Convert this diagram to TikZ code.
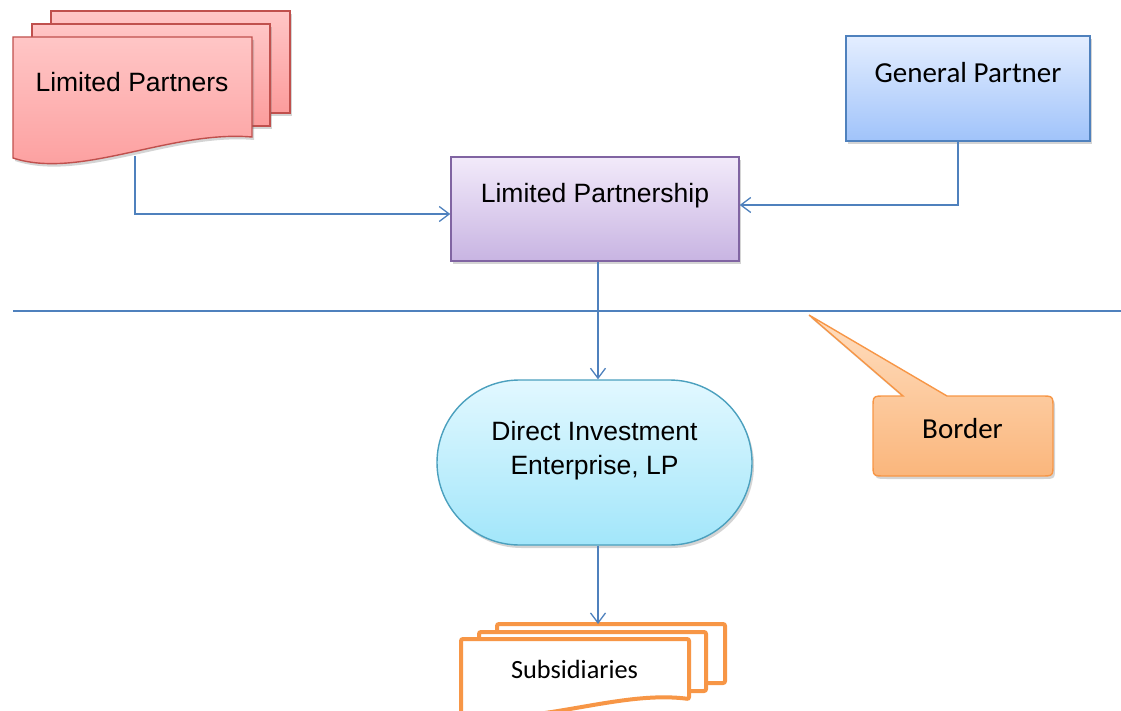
\documentclass[tikz,border=0pt]{standalone}
\usepackage{fontspec}
\setmainfont{Liberation Sans}
\newfontfamily\calib{Carlito}
\usetikzlibrary{arrows.meta,shapes.misc,shadows}
\definecolor{connblue}{RGB}{79,129,189}
\definecolor{lpTop}{RGB}{255,198,198}
\definecolor{lpBot}{RGB}{252,156,156}
\definecolor{lpLine}{RGB}{192,80,77}
\definecolor{gpTop}{RGB}{228,238,255}
\definecolor{gpBot}{RGB}{160,195,250}
\definecolor{gpLine}{RGB}{79,129,189}
\definecolor{psTop}{RGB}{242,234,250}
\definecolor{psBot}{RGB}{200,180,226}
\definecolor{psLine}{RGB}{128,100,162}
\definecolor{dieTop}{RGB}{226,248,255}
\definecolor{dieBot}{RGB}{162,230,250}
\definecolor{dieLine}{RGB}{75,160,190}
\definecolor{orTop}{RGB}{255,222,192}
\definecolor{orBot}{RGB}{250,182,124}
\definecolor{orLine}{RGB}{247,150,70}
\begin{document}
\begin{tikzpicture}[x=1pt,y=-1pt,
  shad/.style={drop shadow={shadow xshift=2pt,shadow yshift=-3pt,opacity=0.28,fill=black!60}},
  conn/.style={draw=connblue,line width=1.3pt,-{Straight Barb[length=10pt,width=15pt,line width=1.3pt]}},
  arialtxt/.style={font=\fontsize{26.5}{34}\selectfont,text=black,inner sep=0pt},
  calibtxt/.style={font=\calib\fontsize{29}{34}\selectfont,text=black,inner sep=0pt},
  boxstyle/.style={rectangle,line width=1.4pt,shad,inner sep=0pt},
  orangedoc/.style={draw=orLine,fill=white,line width=4pt,rounded corners=2pt}
]
\useasboundingbox (0,0) rectangle (1121,711);

% Limited Partners (multi-document)
\path[shad,draw=lpLine,line width=1.4pt,top color=lpTop,bottom color=lpBot]
  (51,11) rectangle (290,113);
\path[shad,draw=lpLine,line width=1.4pt,top color=lpTop,bottom color=lpBot]
  (32,24) rectangle (270,126);
\path[shad,draw=lpLine,line width=1.4pt,top color=lpTop,bottom color=lpBot]
  (13,37) -- (252,37) -- (252,137) .. controls (170,130) and (80,180) .. (13,158) -- cycle;
\node[arialtxt,anchor=base] (lptxt) at (132,92) {Limited Partners};
\coordinate (lpbot) at (135,156);

% General Partner
\node[boxstyle,draw=gpLine,top color=gpTop,bottom color=gpBot,
  minimum width=244pt,minimum height=105pt] (gp) at (968,88.5) {};
\node[calibtxt,anchor=base] (gptxt) at (968,83) {General Partner};

% Limited Partnership
\node[boxstyle,draw=psLine,top color=psTop,bottom color=psBot,
  minimum width=288pt,minimum height=104pt] (lps) at (595,209) {};
\node[arialtxt,anchor=base] (lpstxt) at (595,203) {Limited Partnership};

% Border line
\coordinate (bl) at (13,311);
\coordinate (br) at (1121,311);
\draw[connblue,line width=1.3pt] (bl) -- (br);

% Direct Investment Enterprise
\node[rounded rectangle,line width=1.4pt,shad,draw=dieLine,top color=dieTop,bottom color=dieBot,
  minimum width=315pt,minimum height=165pt,inner sep=0pt] (die) at (594.5,462.5) {};
\node[arialtxt,anchor=base] (dietxt1) at (594.5,440) {Direct Investment};
\node[arialtxt,anchor=base] (dietxt2) at (594.5,474) {Enterprise, LP};

% Border callout
\path[shad,draw=orLine,line width=1.4pt,top color=orTop,bottom color=orBot]
  (903,396) -- (809,315) -- (947,396) -- (1041,396)
  .. controls (1053,396) .. (1053,408) -- (1053,464)
  .. controls (1053,476) .. (1041,476) -- (885,476)
  .. controls (873,476) .. (873,464) -- (873,408)
  .. controls (873,396) .. (885,396) -- cycle;
\node[calibtxt,anchor=base] (bordertxt) at (962.5,438) {Border};

% Subsidiaries (multi-document)
\path[orangedoc] (497,624) rectangle (725,683);
\path[orangedoc] (479,632) rectangle (706,691);
\path[orangedoc] (461,639) -- (689,639) -- (689,699) .. controls (620,690) and (540,725) .. (461,716) -- cycle;
\node[font=\calib\fontsize{26.3}{32}\selectfont,inner sep=0pt,anchor=base] (subtxt) at (574.5,678) {Subsidiaries};
\coordinate (subtop) at (598,624);

% Connectors
\draw[conn] (lpbot) |- ([yshift=-5pt]lps.west);
\draw[conn] ([xshift=-10pt]gp.south) |- ([yshift=4pt]lps.east);
\draw[conn] ([xshift=3pt]lps.south) -- ([xshift=3.5pt]die.north);
\draw[conn] ([xshift=3.5pt]die.south) -- (subtop);
\end{tikzpicture}
\end{document}
